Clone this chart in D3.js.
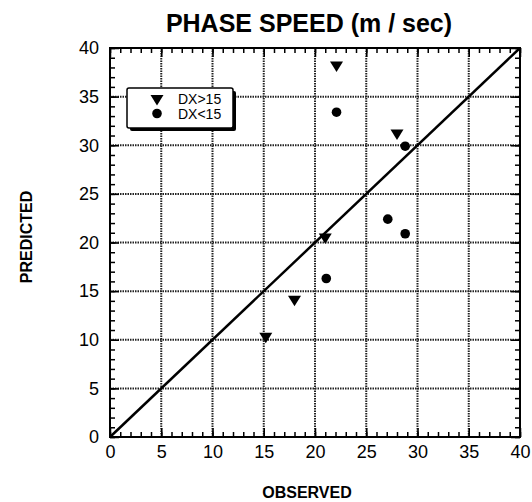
<!DOCTYPE html>
<html>
<head>
<meta charset="utf-8">
<script src="https://cdn.jsdelivr.net/npm/d3@7"></script>
<style>
  body { margin: 0; background: #fff; }
  text { font-family: "Liberation Sans", Arial, sans-serif; fill: #000; }
</style>
</head>
<body>
<svg id="chart"></svg>
<script>
// observed vs predicted phase speed
const triObserved  = [22.1, 28.0, 21.0, 18.0, 15.2];
const triPredicted = [38.1, 31.1, 20.4, 14.0, 10.2];
const dotObserved  = [22.1, 28.8, 27.1, 28.8, 21.1];
const dotPredicted = [33.4, 29.9, 22.4, 20.9, 16.3];

const majorTicks = [0, 5, 10, 15, 20, 25, 30, 35, 40];
const legendLabels = ['DX>15', 'DX<15'];

class Scatter {

  constructor(_config) {
    this.config = {
      parentElement: _config.parentElement,
      containerWidth: _config.containerWidth,
      containerHeight: _config.containerHeight,
      margin: _config.margin
    }
    this.initVis();
  }

  initVis() {
    let vis = this;
    vis.width = vis.config.containerWidth - vis.config.margin.left - vis.config.margin.right;
    vis.height = vis.config.containerHeight - vis.config.margin.top - vis.config.margin.bottom;

    vis.svg = d3.select(vis.config.parentElement)
        .attr('width', vis.config.containerWidth)
        .attr('height', vis.config.containerHeight);

    vis.chart = vis.svg.append('g')
        .attr('transform', `translate(${vis.config.margin.left},${vis.config.margin.top})`);

    vis.x = d3.scaleLinear().domain([0, 40]).range([0, vis.width]);
    vis.y = d3.scaleLinear().domain([0, 40]).range([vis.height, 0]);

    vis.renderVis();
  }

  renderVis() {
    let vis = this;
    const minor = d3.range(0, 41, 1);

    // dotted grid every 5
    const grid = vis.chart.append('g')
      .attr('stroke', '#222').attr('stroke-width', 2).attr('stroke-dasharray', '1.5,1');
    grid.selectAll('.vgrid')
      .data(majorTicks.slice(1, -1))
      .join('line')
      .attr('class', 'vgrid')
      .attr('x1', d => vis.x(d)).attr('x2', d => vis.x(d))
      .attr('y1', 0).attr('y2', vis.height);
    grid.selectAll('.hgrid')
      .data(majorTicks.slice(1, -1))
      .join('line')
      .attr('class', 'hgrid')
      .attr('y1', d => vis.y(d)).attr('y2', d => vis.y(d))
      .attr('x1', 0).attr('x2', vis.width);

    // minor ticks on all four sides (inward)
    const fmtNone = () => '';
    vis.chart.append('g').attr('transform', `translate(0,${vis.height})`)
      .call(d3.axisBottom(vis.x).tickValues(minor).tickSize(-5).tickFormat(fmtNone));
    vis.chart.append('g')
      .call(d3.axisTop(vis.x).tickValues(minor).tickSize(-5).tickFormat(fmtNone));
    vis.chart.append('g')
      .call(d3.axisLeft(vis.y).tickValues(minor).tickSize(-5).tickFormat(fmtNone));
    vis.chart.append('g').attr('transform', `translate(${vis.width},0)`)
      .call(d3.axisRight(vis.y).tickValues(minor).tickSize(-5).tickFormat(fmtNone));

    // major ticks with labels
    const xAxis = vis.chart.append('g').attr('transform', `translate(0,${vis.height})`)
      .call(d3.axisBottom(vis.x).tickValues(majorTicks).tickSize(-9).tickPadding(8));
    const yAxis = vis.chart.append('g')
      .call(d3.axisLeft(vis.y).tickValues(majorTicks).tickSize(-9).tickPadding(11));
    vis.chart.append('g')
      .call(d3.axisTop(vis.x).tickValues(majorTicks).tickSize(-9).tickFormat(fmtNone));
    vis.chart.append('g').attr('transform', `translate(${vis.width},0)`)
      .call(d3.axisRight(vis.y).tickValues(majorTicks).tickSize(-9).tickFormat(fmtNone));

    vis.chart.selectAll('.tick line').attr('stroke', '#000').attr('stroke-width', 1.5);
    vis.chart.selectAll('.domain').remove();
    [xAxis, yAxis].forEach(a => a.selectAll('text')
      .attr('font-size', 18)
      .attr('font-family', '"Liberation Sans", Arial, sans-serif')
      .attr('fill', '#000'));

    // frame
    vis.chart.append('rect')
      .attr('width', vis.width).attr('height', vis.height)
      .attr('fill', 'none').attr('stroke', '#000').attr('stroke-width', 2);

    // y = x line
    vis.chart.append('line')
      .attr('x1', vis.x(0)).attr('y1', vis.y(0))
      .attr('x2', vis.x(40)).attr('y2', vis.y(40))
      .attr('stroke', '#000').attr('stroke-width', 2.5);

    const triPath = 'M-6.5,-5L6.5,-5L0,5.5Z';

    vis.chart.selectAll('.tri')
      .data(triObserved.map((d, i) => ({x: d, y: triPredicted[i]})))
      .join('path')
      .attr('class', 'tri')
      .attr('d', triPath)
      .attr('transform', d => `translate(${vis.x(d.x)},${vis.y(d.y)})`)
      .attr('fill', '#000');

    vis.chart.selectAll('.dot')
      .data(dotObserved.map((d, i) => ({x: d, y: dotPredicted[i]})))
      .join('circle')
      .attr('class', 'dot')
      .attr('cx', d => vis.x(d.x))
      .attr('cy', d => vis.y(d.y))
      .attr('r', 4.8)
      .attr('fill', '#000');

    // legend
    const lg = vis.svg.append('g').attr('transform', 'translate(127,88)');
    lg.append('rect').attr('x', 3).attr('y', 3).attr('width', 106).attr('height', 40)
      .attr('rx', 2).attr('fill', '#000');
    lg.append('rect').attr('width', 106).attr('height', 40)
      .attr('rx', 2).attr('fill', '#fff').attr('stroke', '#000').attr('stroke-width', 1.5);
    lg.append('path').attr('d', triPath).attr('transform', 'translate(30,12)').attr('fill', '#000');
    lg.append('circle').attr('cx', 30).attr('cy', 25.5).attr('r', 4.8).attr('fill', '#000');
    lg.selectAll('.lgtext')
      .data(legendLabels)
      .join('text')
      .attr('class', 'lgtext')
      .attr('x', 51)
      .attr('y', (d, i) => 11.5 + i * 15)
      .attr('dy', '0.35em')
      .attr('font-size', 14)
      .text(d => d);

    // titles
    vis.svg.append('text')
      .attr('x', 309).attr('y', 32)
      .attr('text-anchor', 'middle')
      .attr('font-size', 25).attr('font-weight', 'bold')
      .text('PHASE SPEED (m / sec)');

    vis.svg.append('text')
      .attr('x', 307).attr('y', 498)
      .attr('text-anchor', 'middle')
      .attr('font-size', 16).attr('font-weight', 'bold')
      .text('OBSERVED');

    vis.svg.append('text')
      .attr('transform', 'translate(32,237) rotate(-90)')
      .attr('text-anchor', 'middle')
      .attr('font-size', 16).attr('font-weight', 'bold')
      .text('PREDICTED');
  }
}

new Scatter({
  parentElement: '#chart',
  containerWidth: 532,
  containerHeight: 502,
  margin: {top: 48, right: 12, bottom: 65, left: 110}
});
</script>
</body>
</html>
